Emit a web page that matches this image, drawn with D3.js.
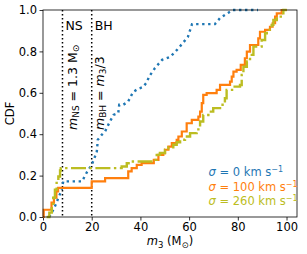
<!DOCTYPE html>
<html>
<head>
<meta charset="utf-8">
<script src="https://cdn.jsdelivr.net/npm/d3@7"></script>
<style>
  body { margin: 0; background: #fff; }
  text { font-family: "DejaVu Sans", sans-serif; }
</style>
</head>
<body>
<svg id="chart" width="307" height="254"></svg>
<script>
// CDF of m3 for three kick velocities as [m3, cdf]
var sigma0 = [[2.5,0],[4.5,0.04],[6.3,0.092],[7.7,0.132],[8.3,0.172],[16.0,0.172],[18.2,0.22],[20.0,0.252],
  [21.1,0.284],[22.1,0.316],[22.5,0.373],[24.1,0.397],[25.5,0.413],[26.8,0.445],[28.9,0.493],[30.9,0.502],
  [31.3,0.542],[32.9,0.542],[34.9,0.556],[37.0,0.604],[39.0,0.619],[41.1,0.628],[42.7,0.652],[43.5,0.677],
  [46.0,0.72],[48.9,0.759],[52.2,0.773],[55.0,0.807],[57.1,0.836],[59.5,0.87],[60.4,0.903],[61.2,0.932],
  [70.6,0.932],[72.7,0.961],[76.0,0.986],[78.0,1.0],[88.3,1.0]];

var sigma100 = [[0,0],[0.3,0.035],[3.5,0.069],[4.5,0.093],[5.5,0.124],[6.2,0.141],[20.0,0.172],[25.5,0.188],
  [35.0,0.22],[36.4,0.236],[38.5,0.252],[40.5,0.26],[45.5,0.276],[47.4,0.30],[49.4,0.309],[50.1,0.325],
  [51.5,0.34],[52.9,0.357],[54.9,0.373],[55.6,0.389],[57.0,0.413],[59.0,0.453],[61.1,0.469],[63.8,0.485],
  [64.5,0.509],[65.2,0.55],[65.8,0.59],[67.2,0.598],[71.3,0.614],[72.7,0.638],[76.8,0.654],[77.5,0.678],
  [78.2,0.702],[79.5,0.711],[81.2,0.735],[82.9,0.767],[83.7,0.799],[85.0,0.831],[88.4,0.863],[89.1,0.895],
  [91.2,0.904],[93.2,0.919],[94.3,0.936],[95.3,0.968],[96.0,0.984],[98.0,1.0],[100.1,1.0]];

var sigma260 = [[1.5,0],[2.6,0.021],[3.6,0.051],[4.2,0.093],[4.9,0.132],[5.6,0.172],[6.3,0.196],[7.0,0.225],
  [7.3,0.236],[32.3,0.244],[34.4,0.26],[35.7,0.268],[45.3,0.276],[46.7,0.30],[48.0,0.309],[50.1,0.325],
  [51.5,0.337],[53.5,0.349],[54.9,0.361],[56.3,0.373],[58.3,0.389],[60.4,0.405],[63.1,0.413],[63.8,0.437],
  [64.5,0.461],[65.8,0.493],[67.9,0.509],[69.9,0.526],[72.7,0.542],[74.7,0.574],[75.4,0.614],[78.2,0.63],
  [80.9,0.638],[81.6,0.686],[82.3,0.726],[83.7,0.751],[85.0,0.783],[86.4,0.823],[89.8,0.855],[91.2,0.888],
  [91.9,0.904],[93.9,0.928],[94.6,0.952],[96.0,0.968],[98.7,1.0],[100.1,1.0]];

var sigmaLabels = ["0", "100", "260"];
var xTicks = [0, 20, 40, 60, 80, 100];
var yTicks = [0, 0.2, 0.4, 0.6, 0.8, 1.0];
var nsMass = 8, bhMass = 20; // marker lines

var margin = {top: 10, right: 10, bottom: 37, left: 43},
    width = 307 - margin.left - margin.right,
    height = 254 - margin.top - margin.bottom;

var svg = d3.select("#chart");
svg.append("rect").attr("width", 307).attr("height", 254).attr("fill", "#fff");
var g = svg.append("g").attr("transform", "translate(" + margin.left + "," + margin.top + ")");

var x = d3.scaleLinear().domain([0, 104.3]).range([0, width]);
var y = d3.scaleLinear().domain([0, 1]).range([height, 0]);

// axes
var xAxis = g.append("g").attr("transform", "translate(0," + height + ")")
  .call(d3.axisBottom(x).tickValues(xTicks).tickSize(3.5).tickPadding(2.5).tickFormat(d3.format("d")));
var yAxis = g.append("g")
  .call(d3.axisLeft(y).tickValues(yTicks).tickSize(3.5).tickPadding(2.5).tickFormat(d3.format(".1f")));
[xAxis, yAxis].forEach(function(a) {
  a.select(".domain").remove();
  a.selectAll("line").attr("stroke", "#000").attr("stroke-width", 0.8);
  a.selectAll("text").attr("font-size", 11.5).attr("fill", "#000").style("font-family", "DejaVu Sans");
});

// vertical marker lines
[nsMass, bhMass].forEach(function(m) {
  g.append("line").attr("x1", x(m)).attr("x2", x(m)).attr("y1", 0).attr("y2", height)
    .attr("stroke", "#000").attr("stroke-width", 1.5).attr("stroke-dasharray", "1.5,2.5");
});

// curves
var lineLin = d3.line().x(function(d) { return x(d[0]); }).y(function(d) { return y(d[1]); });
var lineStep = d3.line().x(function(d) { return x(d[0]); }).y(function(d) { return y(d[1]); }).curve(d3.curveStepAfter);

g.append("path").datum(sigma0).attr("d", lineLin).attr("fill", "none")
  .attr("stroke", "#1f77b4").attr("stroke-width", 2.4).attr("stroke-dasharray", "2.4,3.6");
g.append("path").datum(sigma100).attr("d", lineStep).attr("fill", "none")
  .attr("stroke", "#ff7f0e").attr("stroke-width", 2.2);
g.append("path").datum(sigma260).attr("d", lineStep).attr("fill", "none")
  .attr("stroke", "#bcbd22").attr("stroke-width", 2.4).attr("stroke-dasharray", "15,3.5,2.4,3.5");

// frame
g.append("rect").attr("x", 0).attr("y", 0).attr("width", width).attr("height", height)
  .attr("fill", "none").attr("stroke", "#000").attr("stroke-width", 0.8);

// annotations
g.append("text").attr("x", x(nsMass) + 3).attr("y", 19.5).attr("font-size", 12.5).text("NS");
g.append("text").attr("x", x(bhMass) + 3).attr("y", 19.5).attr("font-size", 12.5).text("BH");

var t1 = g.append("text").attr("font-size", 12.5)
  .attr("transform", "translate(" + (x(nsMass) + 14.5) + ",120) rotate(-90)");
t1.append("tspan").attr("font-style", "italic").text("m");
t1.append("tspan").attr("font-size", 9).attr("dy", 2.5).text("NS");
t1.append("tspan").attr("dy", -2.5).text(" = 1.3 M");
t1.append("tspan").attr("font-size", 9).attr("dy", 2.5).text("\u2299");

var t2 = g.append("text").attr("font-size", 12.5)
  .attr("transform", "translate(" + (x(bhMass) + 12) + ",120) rotate(-90)");
t2.append("tspan").attr("font-style", "italic").text("m");
t2.append("tspan").attr("font-size", 9).attr("dy", 2.5).text("BH");
t2.append("tspan").attr("dy", -2.5).text(" = ");
t2.append("tspan").attr("font-style", "italic").text("m");
t2.append("tspan").attr("font-size", 9).attr("dy", 2.5).text("3");
t2.append("tspan").attr("dy", -2.5).text("/3");

// legend text
var colors = ["#1f77b4", "#ff7f0e", "#bcbd22"];
sigmaLabels.forEach(function(s, i) {
  var t = g.append("text").attr("x", 165.5).attr("y", 166 + i * 14.5).attr("font-size", 11.5).attr("fill", colors[i]);
  t.append("tspan").attr("font-style", "italic").text("\u03c3");
  t.append("tspan").text(" = " + s + " km s");
  t.append("tspan").attr("font-size", 8).attr("dy", -4).text("\u22121");
});

// axis labels
var xl = g.append("text").attr("x", width / 2).attr("y", height + 28).attr("text-anchor", "middle").attr("font-size", 11.5);
xl.append("tspan").attr("font-style", "italic").text("m");
xl.append("tspan").attr("font-size", 8.5).attr("dy", 2.5).text("3");
xl.append("tspan").attr("dy", -2.5).text(" (M");
xl.append("tspan").attr("font-size", 8.5).attr("dy", 2.5).text("\u2299");
xl.append("tspan").attr("dy", -2.5).text(")");

g.append("text").attr("transform", "translate(-29," + (height / 2) + ") rotate(-90)")
  .attr("text-anchor", "middle").attr("font-size", 11.5).text("CDF");
</script>
</body>
</html>
